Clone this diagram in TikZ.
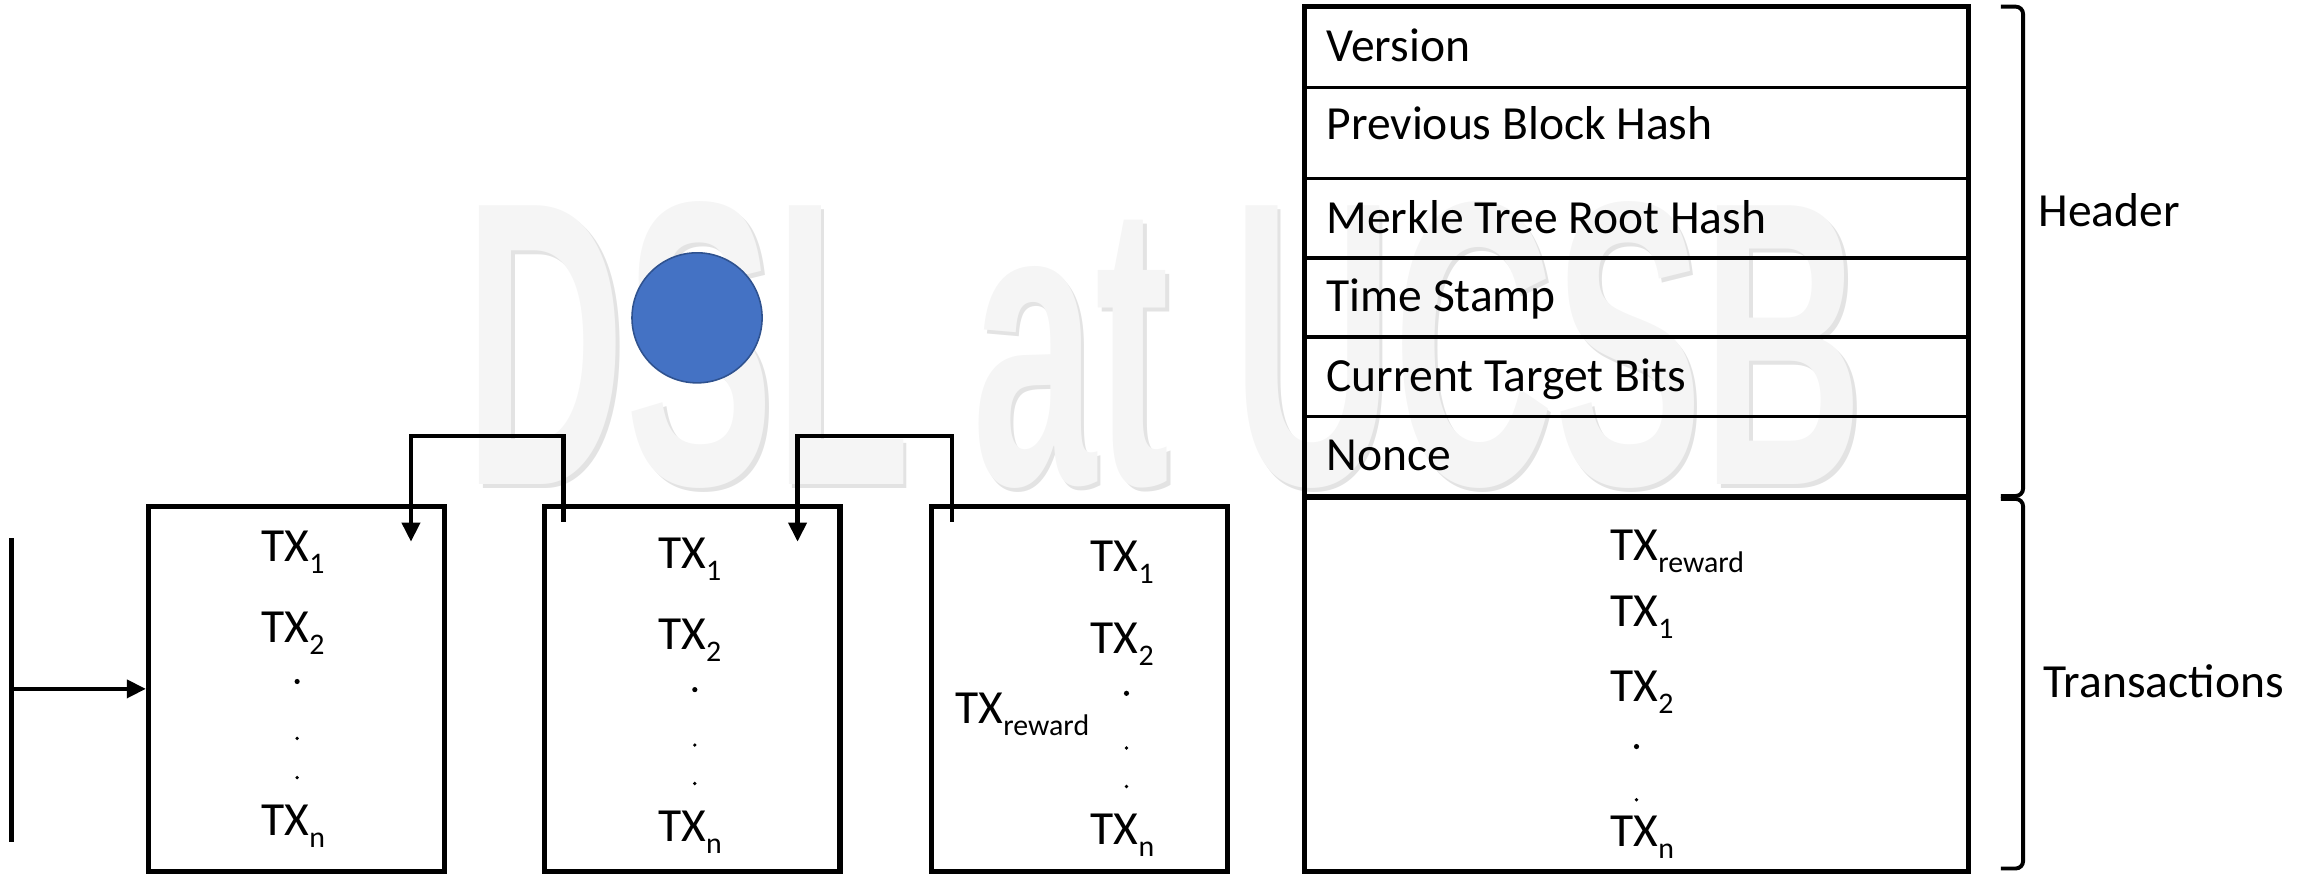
\documentclass[tikz,border=0pt]{standalone}
\usepackage{fontspec}
\setmainfont{Carlito}
\newfontfamily\wmfont{Liberation Sans}
\usepackage{xcolor}
\usetikzlibrary{arrows.meta}

\definecolor{coinblue}{HTML}{4472C4}
\definecolor{coinedge}{HTML}{2F528F}

% subscript as the slides set it: small and well below the line
\newcommand{\txsub}[1]{\raisebox{-4.6pt}{\fontsize{11.5}{12}\selectfont #1}}

\tikzset{
  blockbox/.style={draw, line width=2pt, minimum width=4cm, minimum height=4.94cm, inner sep=0pt},
  txt/.style={font=\fontsize{18.3}{22}\selectfont, inner sep=0pt, anchor=base west},
  link/.style={line width=1.8pt, -{Triangle[length=0.26cm,width=0.24cm]}},
  rowline/.style={line width=1.2pt},
  bracket/.style={line width=1.5pt, rounded corners=0.1cm},
  wmark/.style={anchor=base west, inner sep=0pt, xscale=0.55, font=\wmfont\bfseries\fontsize{156}{160}\selectfont},
}

\begin{document}
\begin{tikzpicture}
  \useasboundingbox (0,0) rectangle (31.36,11.84);
  % Watermark behind everything
  \node[wmark, text=black!11] (wmshadow) at (6.33,5.23) {DSL at UCSB};
  \node[wmark, text=black!4] (wm) at (6.28,5.28) {DSL at UCSB};

  % Blue coin
  \node[circle, fill=coinblue, draw=coinedge, line width=0.6pt, minimum size=1.76cm, inner sep=0pt] (coin) at (9.43,7.54) {};

  % The chain of blocks
  \node[blockbox] (blk1) at (4.01,2.52) {};
  \node[blockbox] (blk2) at (9.365,2.52) {};
  \node[blockbox] (blk3) at (14.605,2.52) {};

  % Incoming line
  \coordinate (feedtop) at (0.155,4.56);
  \coordinate (feedbot) at (0.155,0.45);
  \draw[line width=1.8pt] (feedtop) -- (feedbot);
  \draw[link] (feedtop |- blk1.west) -- (blk1.west);

  % Back links to the previous block
  \coordinate (src2) at (7.62,4.78);
  \coordinate (dst1) at (5.56,4.51);
  \coordinate (src3) at (12.88,4.78);
  \coordinate (dst2) at (10.79,4.51);
  \draw[link] (src2) -- ++(0,1.16) -| (dst1);
  \draw[link] (src3) -- ++(0,1.16) -| (dst2);

  % Block 1 contents
  \node[txt] (b1tx1) at (3.53,4.24) {TX\txsub{1}};
  \node[txt] (b1tx2) at (3.53,3.15) {TX\txsub{2}};
  \fill (4.02,2.62) circle (0.035);
  \fill (4.02,1.85) circle (0.025);
  \fill (4.02,1.32) circle (0.025);
  \node[txt] (b1txn) at (3.53,0.54) {TX\txsub{n}};

  % Block 2 contents
  \node[txt] (b2tx1) at (8.9,4.15) {TX\txsub{1}};
  \node[txt] (b2tx2) at (8.9,3.05) {TX\txsub{2}};
  \fill (9.4,2.51) circle (0.035);
  \fill (9.4,1.76) circle (0.025);
  \fill (9.4,1.24) circle (0.025);
  \node[txt] (b2txn) at (8.9,0.45) {TX\txsub{n}};

  % Block 3 contents
  \node[txt] (b3tx1) at (14.75,4.11) {TX\txsub{1}};
  \node[txt] (b3tx2) at (14.75,3.0) {TX\txsub{2}};
  \node[txt] (b3rew) at (12.92,2.05) {TX\txsub{reward}};
  \fill (15.24,2.46) circle (0.035);
  \fill (15.24,1.72) circle (0.025);
  \fill (15.24,1.2) circle (0.025);
  \node[txt] (b3txn) at (14.75,0.41) {TX\txsub{n}};

  % Block layout: header rows and transactions
  \draw[line width=2pt] (17.65,0.05) rectangle (26.63,11.75);
  \draw[rowline] (17.65,10.66) -- (26.63,10.66);
  \draw[rowline] (17.65,9.42) -- (26.63,9.42);
  \draw[rowline] (17.65,8.35) -- (26.63,8.35);
  \draw[rowline] (17.65,7.28) -- (26.63,7.28);
  \draw[rowline] (17.65,6.2) -- (26.63,6.2);
  \draw[line width=2.4pt] (17.65,5.12) -- (26.63,5.12);

  \node[txt] (version) at (17.94,11.01) {Version};
  \node[txt] (prevhash) at (17.94,9.95) {Previous Block Hash};
  \node[txt] (merkle) at (17.94,8.68) {Merkle Tree Root Hash};
  \node[txt] (stamp) at (17.94,7.62) {Time Stamp};
  \node[txt] (target) at (17.94,6.54) {Current Target Bits};
  \node[txt] (nonce) at (17.94,5.47) {Nonce};

  \node[txt] (trew) at (21.78,4.26) {TX\txsub{reward}};
  \node[txt] (ttx1) at (21.78,3.36) {TX\txsub{1}};
  \node[txt] (ttx2) at (21.78,2.35) {TX\txsub{2}};
  \fill (22.14,1.74) circle (0.035);
  \fill (22.14,1.02) circle (0.025);
  \node[txt] (ttxn) at (21.78,0.39) {TX\txsub{n}};

  % Brackets
  \draw[bracket] (27.07,11.75) -- (27.37,11.75) -- (27.37,5.13) -- (27.07,5.13);
  \draw[bracket] (27.07,5.09) -- (27.37,5.09) -- (27.37,0.09) -- (27.07,0.09);
  \node[txt] (header) at (27.57,8.77) {Header};
  \node[txt] (trans) at (27.64,2.41) {Transactions};
\end{tikzpicture}
\end{document}
